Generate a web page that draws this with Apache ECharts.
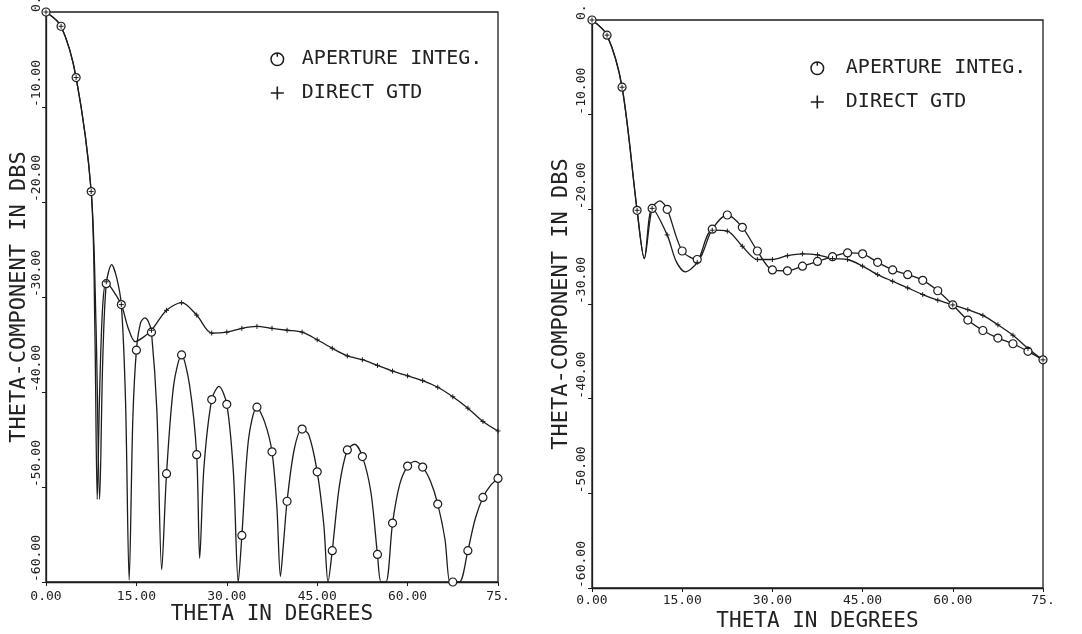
<!DOCTYPE html>
<html>
<head>
<meta charset="utf-8">
<script src="https://cdn.jsdelivr.net/npm/echarts@6/dist/echarts.min.js"></script>
<style>
  html, body { margin: 0; padding: 0; background: #fff; }
  #wrap { position: relative; width: 1082px; height: 634px; }
  #left  { position: absolute; left: 0;     top: 0; width: 541px; height: 634px; }
  #right { position: absolute; left: 541px; top: 0; width: 541px; height: 634px; }
</style>
</head>
<body>
<div id="wrap"><div id="left"></div><div id="right"></div></div>
<script>
// Tick labels as printed on the plotter output
const xTickLabels = ['0.00', '15.00', '30.00', '45.00', '60.00', '75.'];
const yTickLabels = ['-60.00', '-50.00', '-40.00', '-30.00', '-20.00', '-10.00', '0.'];
const seriesNames = ['APERTURE INTEG.', 'DIRECT GTD'];
const xName = 'THETA IN DEGREES';
const yName = 'THETA-COMPONENT IN DBS';

// Left panel: [theta (deg), level (dB)]
const leftAperture = [
  [0, 0], [2.5, -1.5], [5, -6.9], [7.5, -18.9], [8.3, -33], [8.9, -51.3], [9.4, -37],
  [10, -28.6], [10.9, -26.6], [11.7, -27.9], [12.5, -30.8], [13.2, -41], [13.8, -59.8],
  [14.4, -43], [15, -35.6], [15.7, -32.7], [16.4, -32.2], [17, -32.6], [17.5, -33.7],
  [18.4, -42], [19.2, -58.7], [20, -48.6], [21.2, -39.2], [22.5, -36.1], [23.8, -39.2],
  [25, -46.6], [25.5, -57.5], [26.2, -48], [27.5, -40.8], [28.7, -39.4], [30, -41.3],
  [31.1, -48.5], [31.9, -60], [32.5, -55.1], [33.6, -45], [35, -41.6], [36.3, -43.2],
  [37.5, -46.3], [38.3, -52], [38.9, -59.4], [39.4, -56], [40, -51.5], [41.2, -46],
  [42.5, -43.9], [43.6, -44.5], [45, -48.4], [46.1, -54], [46.8, -60], [47.5, -56.7],
  [48.7, -49.8], [50, -46.1], [51.2, -45.5], [52.5, -46.8], [53.9, -50.5], [55, -57.1],
  [55.6, -60], [56.4, -60], [57.5, -53.8], [58.7, -49.7], [60, -47.8], [61.2, -47.3],
  [62.5, -47.9], [63.8, -49.4], [65, -51.8], [66.2, -55.5], [67, -60], [67.5, -60],
  [68.6, -60], [70, -56.7], [71.2, -53.4], [72.5, -51.1], [73.8, -49.8], [75, -49.1]
];
const leftGtd = [
  [0, 0], [2.5, -1.5], [5, -6.9], [7.5, -18.9], [8.1, -33], [8.5, -51.3], [8.9, -40],
  [9.4, -31], [10, -28.4], [11, -29.2], [12.5, -30.8], [13.6, -33.2], [14.8, -34.7],
  [16, -34.3], [17.5, -33.5], [20, -31.4], [22.5, -30.6], [25, -31.9], [27.5, -33.8],
  [30, -33.7], [32.5, -33.3], [35, -33.1], [37.5, -33.3], [40, -33.5], [42.5, -33.7],
  [45, -34.5], [47.5, -35.4], [50, -36.2], [52.5, -36.6], [55, -37.2], [57.5, -37.8],
  [60, -38.3], [62.5, -38.8], [65, -39.5], [67.5, -40.5], [70, -41.7], [72.5, -43.1],
  [75, -44.1]
];

// Right panel: [theta (deg), level (dB)]
const rightAperture = [
  [0, 0], [2.5, -1.6], [5, -7.1], [7.5, -20.1], [8.7, -25.2], [10, -19.9], [11.3, -19.1],
  [12.5, -20.0], [15, -24.4], [17.5, -25.3], [20, -22.1], [22.5, -20.6], [25, -21.9],
  [27.5, -24.4], [30, -26.4], [32.5, -26.5], [35, -26.0], [37.5, -25.5], [40, -25.0],
  [42.5, -24.6], [45, -24.7], [47.5, -25.6], [50, -26.4], [52.5, -26.9], [55, -27.5],
  [57.5, -28.6], [60, -30.1], [62.5, -31.7], [65, -32.8], [67.5, -33.6], [70, -34.2],
  [72.5, -35.0], [75, -35.9]
];
const rightGtd = [
  [0, 0], [2.5, -1.6], [5, -7.1], [7.5, -20.1], [8.7, -25.2], [10, -19.9], [12.5, -22.7],
  [14, -25.5], [15.5, -26.6], [17.5, -25.6], [20, -22.2], [22.5, -22.3], [25, -23.9],
  [27.5, -25.3], [30, -25.3], [32.5, -24.9], [35, -24.7], [37.5, -24.8], [40, -25.2],
  [42.5, -25.3], [45, -26.0], [47.5, -26.9], [50, -27.6], [52.5, -28.3], [55, -29.0],
  [57.5, -29.6], [60, -30.1], [62.5, -30.6], [65, -31.2], [67.5, -32.2], [70, -33.3],
  [72.5, -34.7], [75, -35.9]
];

const INK = '#1c1c1c';
const FONT = 'DejaVu Sans Mono';
const PLUS = 'path://M0,6L12,6M6,0L6,12';
const O_TICK = 'path://M12,7A6,6,0,1,1,0,7A6,6,0,1,1,12,7ZM6,0.6L6,4.6';

// computed samples are plotted every 2.5 degrees; the other points only shape the curve
const isSample = x => Math.abs(x / 2.5 - Math.round(x / 2.5)) < 1e-9;

function curve(name, pts, symbol, size, itemStyle) {
  return {
    name, type: 'line', smooth: 0.3, animation: false,
    showSymbol: true, showAllSymbol: true, symbolSize: size,
    data: pts.map(p => ({ value: p, symbol: isSample(p[0]) ? symbol : 'none' })),
    lineStyle: { color: INK, width: 1.3 },
    itemStyle,
    emphasis: { disabled: true },
    clip: true
  };
}

function panel(cfg) {
  return {
    animation: false,
    backgroundColor: '#fff',
    grid: { left: cfg.left, top: cfg.top, width: cfg.width, height: cfg.height,
            outerBoundsMode: 'none', containLabel: false,
            show: true, borderColor: INK, borderWidth: 1.3, backgroundColor: 'transparent' },
    legend: {
      orient: 'vertical', left: cfg.legendLeft, top: cfg.legendTop, padding: 0,
      itemWidth: 13, itemHeight: 13, itemGap: cfg.legendGap, selectedMode: false,
      textStyle: { fontFamily: FONT, fontSize: 20, color: '#222', padding: [0, 0, 0, cfg.legendPad] },
      data: [
        { name: seriesNames[0], icon: O_TICK, itemStyle: { color: '#fff', borderColor: INK, borderWidth: 1.5 } },
        { name: seriesNames[1], icon: PLUS, itemStyle: { color: INK, borderColor: INK, borderWidth: 1.6 } }
      ]
    },
    xAxis: {
      type: 'value', min: 0, max: 75, interval: 15,
      axisLine: { show: true, onZero: false, lineStyle: { color: INK, width: 1.3 } },
      axisTick: { show: true, length: 4, lineStyle: { color: INK } },
      splitLine: { show: false },
      axisLabel: { fontFamily: FONT, fontSize: 13, color: '#222', margin: cfg.xLabelMargin,
                   formatter: v => xTickLabels[Math.round(v / 15)] },
      name: xName, nameLocation: 'middle', nameGap: cfg.xNameGap, nameMoveOverlap: false,
      nameTextStyle: { fontFamily: FONT, fontSize: 21, color: '#222' }
    },
    yAxis: {
      type: 'value', min: -60, max: 0, interval: 10,
      axisLine: { show: true, onZero: false, lineStyle: { color: INK, width: 1.3 } },
      axisTick: { show: true, length: 4, lineStyle: { color: INK } },
      splitLine: { show: false },
      axisLabel: { fontFamily: FONT, fontSize: 13, color: '#222', rotate: 90, margin: cfg.yLabelMargin,
                   align: 'left', verticalAlign: 'bottom',
                   formatter: v => yTickLabels[Math.round((v + 60) / 10)] },
      name: yName, nameLocation: 'middle', nameGap: cfg.yNameGap, nameMoveOverlap: false,
      nameTextStyle: { fontFamily: FONT, fontSize: 22, color: '#222' }
    },
    series: [
      curve(seriesNames[0], cfg.aperture, 'circle', 8, { color: '#fff', borderColor: INK, borderWidth: 1.2 }),
      curve(seriesNames[1], cfg.gtd, PLUS, 5, { color: INK, borderColor: INK, borderWidth: 1 })
    ]
  };
}

const leftChart = echarts.init(document.getElementById('left'), null, { renderer: 'canvas' });
leftChart.setOption(panel({
  left: 46, top: 12, width: 452, height: 570,
  legendLeft: 270, legendTop: 49, legendGap: 14, legendPad: 13,
  xLabelMargin: 8, xNameGap: 22, yLabelMargin: 3, yNameGap: 16,
  aperture: leftAperture, gtd: leftGtd
}));

const rightChart = echarts.init(document.getElementById('right'), null, { renderer: 'canvas' });
rightChart.setOption(panel({
  left: 51, top: 20, width: 451, height: 568,
  legendLeft: 269, legendTop: 58, legendGap: 14, legendPad: 17,
  xLabelMargin: 6, xNameGap: 23, yLabelMargin: 4, yNameGap: 20,
  aperture: rightAperture, gtd: rightGtd
}));
</script>
</body>
</html>
